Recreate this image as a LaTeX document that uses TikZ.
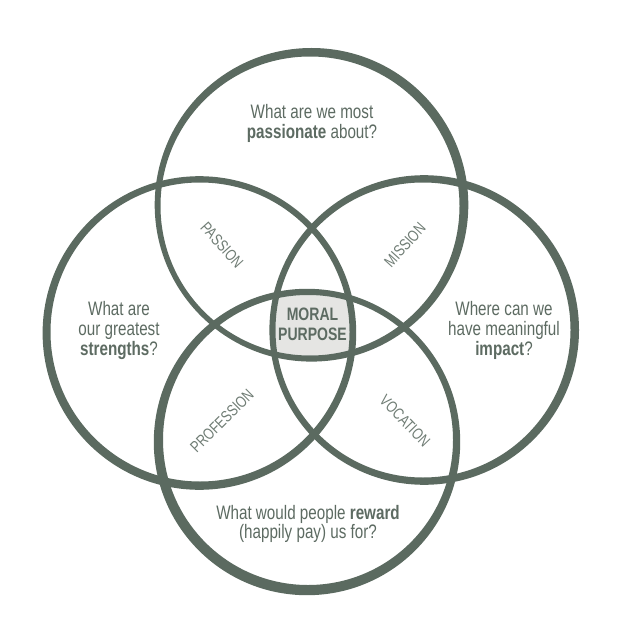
\documentclass[tikz,border=0pt]{standalone}
\usepackage{fontspec}
\setmainfont[FakeStretch=0.78]{Liberation Sans}
\begin{document}
\begin{tikzpicture}[x=1pt,y=-1pt,
  every node/.style={inner sep=0pt,text=txt},
  qtext/.style={anchor=base,font=\fontsize{19.5}{21}\selectfont},
  ltext/.style={font=\fontsize{16}{18}\selectfont,text=txt!88},
  mtext/.style={anchor=base,font=\fontsize{18}{20}\selectfont\bfseries},
  ring/.style={fill=ink,even odd rule}]
\definecolor{ink}{HTML}{5B6A60}
\definecolor{txt}{HTML}{5D6B62}
\definecolor{core}{HTML}{E5E5E3}
\useasboundingbox (0,0) rectangle (637,644);
\fill[white] (0,0) rectangle (637,644);
% circle centres
\coordinate (T) at (310,206);
\coordinate (L) at (200,332);
\coordinate (R) at (423,330);
\coordinate (B) at (308,440);
% central region
\begin{scope}
  \clip (T) circle (149.5);
  \clip (L) circle (149.5);
  \clip (R) circle (147.5);
  \clip (B) circle (145);
  \fill[core] (0,0) rectangle (637,644);
\end{scope}
% rings (slightly eccentric for a hand-drawn stroke)
\fill[ring] ([shift={(1.5,-1.2)}]T) circle (156.8) (T) circle (149.5);
\fill[ring] ([shift={(-0.6,1)}]L) circle (156.8) (L) circle (149.5);
\fill[ring] ([shift={(1.2,0)}]R) circle (154.8) (R) circle (147.5);
\fill[ring] ([shift={(-1,2)}]B) circle (153.2) (B) circle (145);
% questions
\node[qtext] (t1) at (312,119) {What are we most};
\node[qtext] (t2) at (312,139) {\textbf{passionate} about?};
\node[qtext] (l1) at (119,315.5) {What are};
\node[qtext] (l2) at (119,335.5) {our greatest};
\node[qtext] (l3) at (119,355.5) {\textbf{strengths}?};
\node[qtext] (r1) at (504,315.5) {Where can we};
\node[qtext] (r2) at (504,335.5) {have meaningful};
\node[qtext] (r3) at (504,355.5) {\textbf{impact}?};
\node[qtext] (b1) at (308,519) {What would people \textbf{reward}};
\node[qtext] (b2) at (308,538.5) {(happily pay) us for?};
% overlap labels
\node[ltext,rotate=-48] (passion) at (222,245) {PASSION};
\node[ltext,rotate=48] (mission) at (405,245) {MISSION};
\node[ltext,rotate=45] (profession) at (222,421) {PROFESSION};
\node[ltext,rotate=-46] (vocation) at (405,421) {VOCATION};
% centre
\node[mtext] (m1) at (312.5,320.5) {MORAL};
\node[mtext] (m2) at (312.5,340.5) {PURPOSE};
\end{tikzpicture}
\end{document}
